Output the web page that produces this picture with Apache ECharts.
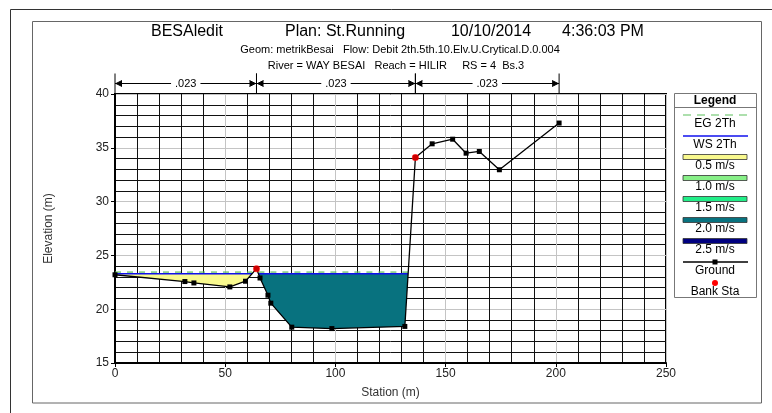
<!DOCTYPE html>
<html>
<head>
<meta charset="utf-8">
<script src="https://cdn.jsdelivr.net/npm/echarts@6/dist/echarts.min.js"></script>
<style>
html,body{margin:0;padding:0;background:#fff;}
#chart{width:772px;height:413px;}
</style>
</head>
<body>
<div id="chart"></div>
<script>
var FONT='Arial, "Liberation Sans", sans-serif';
// ground profile, RS = 4 Bs.3
var groundSta=[0,31.7,35.8,52.1,59.2,64.2,65.8,69.4,70.7,80.2,98.4,131.5,136.3,143.9,153.2,159.3,165.3,174.4,201.5];
var groundElev=[23.2,22.57,22.44,22.07,22.6,23.77,22.9,21.3,20.56,18.33,18.2,18.4,34.1,35.37,35.8,34.5,34.66,32.96,37.3];
var bankSta=[64.2,136.3];
var bankElev=[23.77,34.1];
var wsElev=23.3;   // WS 2Th
var egElev=23.45;  // EG 2Th
var nBreaks=[0,64.2,136.3,201.5];
var nValues=['.023','.023','.023'];
var velLabels=['0.5 m/s','1.0 m/s','1.5 m/s','2.0 m/s','2.5 m/s'];
var velColors=['#f9f98e','#88f088','#22ee88','#08727f','#000080'];
var wetClass=[0,3]; // velocity class for each wet area (left overbank, channel)
var xTicks={min:0,max:250,step:50};
var yTicks={min:15,max:40,step:5};

// wet areas below water surface, cut from the ground line
function wetRuns(sta,elev,ws){
    var runs=[],cur=null;
    for(var i=0;i<sta.length;i++){
        var wet=elev[i]<ws;
        if(i>0){
            var wetPrev=elev[i-1]<ws;
            if(wet!==wetPrev){
                var t=(ws-elev[i-1])/(elev[i]-elev[i-1]);
                var xc=sta[i-1]+t*(sta[i]-sta[i-1]);
                if(wet){cur=[[xc,ws]];}else{cur.push([xc,ws]);runs.push(cur);cur=null;}
            }
        }
        if(wet){
            if(!cur) cur=[[sta[i],ws]];
            cur.push([sta[i],elev[i]]);
        }
    }
    if(cur){cur.push([sta[sta.length-1],ws]);runs.push(cur);}
    return runs;
}
var runs=wetRuns(groundSta,groundElev,wsElev);

var series=[];
series.push({
    type:'custom',name:'flow',z:2,
    data:runs.map(function(r,k){return [k];}),
    renderItem:function(params,api){
        var r=runs[params.dataIndex];
        var pts=r.map(function(p){return api.coord(p);});
        return {type:'polygon',shape:{points:pts},style:{fill:velColors[wetClass[params.dataIndex]],stroke:null}};
    }
});
runs.forEach(function(r){
    var x0=r[0][0],x1=r[r.length-1][0];
    series.push({type:'line',name:'EG 2Th',z:3,symbol:'none',silent:true,
        data:[[x0,egElev],[x1,egElev]],lineStyle:{color:'#5cbf5c',width:1.2,type:[6,6]}});
    series.push({type:'line',name:'WS 2Th',z:4,symbol:'none',silent:true,
        data:[[x0,wsElev],[x1,wsElev]],lineStyle:{color:'#1010ee',width:1.5}});
});
series.push({
    type:'line',name:'Ground',z:5,
    data:groundSta.map(function(s,i){return [s,groundElev[i]];}),
    symbol:'rect',symbolSize:5,showAllSymbol:true,
    lineStyle:{color:'#000',width:1.3},itemStyle:{color:'#000'}
});
series.push({
    type:'scatter',name:'Bank Sta',z:6,
    data:bankSta.map(function(s,i){return [s,bankElev[i]];}),
    symbol:'circle',symbolSize:7,itemStyle:{color:'#ff0000'}
});
// manning's n bands above the plot
series.push({
    type:'custom',name:'n',clip:false,z:6,
    data:nValues.map(function(v,i){return [nBreaks[i],nBreaks[i+1]];}),
    renderItem:function(params,api){
        var i=params.dataIndex;
        var p0=api.coord([nBreaks[i],yTicks.max]);
        var p1=api.coord([nBreaks[i+1],yTicks.max]);
        var y=p0[1]-10.5;
        var st={stroke:'#000',lineWidth:1};
        return {type:'group',children:[
            {type:'line',shape:{x1:p0[0],y1:y-10,x2:p0[0],y2:p0[1]},style:st},
            {type:'line',shape:{x1:p1[0],y1:y-10,x2:p1[0],y2:p1[1]},style:st},
            {type:'line',shape:{x1:p0[0],y1:y,x2:p1[0],y2:y},style:st},
            {type:'polyline',shape:{points:[[p0[0]+7,y-3],[p0[0]+1,y],[p0[0]+7,y+3]]},style:st},
            {type:'polyline',shape:{points:[[p1[0]-7,y-3],[p1[0]-1,y],[p1[0]-7,y+3]]},style:st},
            {type:'text',x:(p0[0]+p1[0])/2,y:y,style:{text:nValues[i],fill:'#000',font:'11px '+FONT,
                align:'center',verticalAlign:'middle',backgroundColor:'#fff',padding:[0,4]}}
        ]};
    }
});

// legend box drawn by hand: symbol above label like the HEC-RAS plot
var legendLabels=['EG 2Th','WS 2Th'].concat(velLabels).concat(['Ground','Bank Sta']);
var LX0=674,LX1=756,LC=(LX0+LX1)/2;
var TITLE_FONT='16px '+FONT;
var graphics=[
    {type:'line',shape:{x1:10.5,y1:9.5,x2:772,y2:9.5},style:{stroke:'#333'}},
    {type:'line',shape:{x1:10.5,y1:9.5,x2:10.5,y2:413},style:{stroke:'#333'}},
    {type:'rect',shape:{x:32.5,y:21.5,width:729,height:381.5},style:{fill:null,stroke:'#666'}},
    {type:'text',x:187,y:32,style:{text:'BESAledit',font:TITLE_FONT,fill:'#000',align:'center',verticalAlign:'middle'}},
    {type:'text',x:345,y:32,style:{text:'Plan: St.Running',font:TITLE_FONT,fill:'#000',align:'center',verticalAlign:'middle'}},
    {type:'text',x:491,y:32,style:{text:'10/10/2014',font:TITLE_FONT,fill:'#000',align:'center',verticalAlign:'middle'}},
    {type:'text',x:603,y:32,style:{text:'4:36:03 PM',font:TITLE_FONT,fill:'#000',align:'center',verticalAlign:'middle'}},
    {type:'text',x:400,y:49.5,style:{text:'Geom: metrikBesai   Flow: Debit 2th.5th.10.Elv.U.Crytical.D.0.004',font:'11px '+FONT,fill:'#000',align:'center',verticalAlign:'middle'}},
    {type:'text',x:396,y:65.5,style:{text:'River = WAY BESAI   Reach = HILIR     RS = 4  Bs.3',font:'11px '+FONT,fill:'#000',align:'center',verticalAlign:'middle'}},
    {type:'rect',shape:{x:LX0+0.5,y:93.5,width:LX1-LX0,height:204},style:{fill:'#fff',stroke:'#777'}},
    {type:'text',x:LC,y:100.5,style:{text:'Legend',font:'bold 12px '+FONT,fill:'#000',align:'center',verticalAlign:'middle'}},
    {type:'line',shape:{x1:LX0,y1:107.5,x2:LX1,y2:107.5},style:{stroke:'#777'}}
];
legendLabels.forEach(function(lab,i){
    var sy=115+21*i;
    if(i==0){
        graphics.push({type:'line',shape:{x1:683,y1:sy,x2:748,y2:sy},style:{stroke:'#5cbf5c',lineWidth:1.2,lineDash:[8,6]}});
    } else if(i==1){
        graphics.push({type:'line',shape:{x1:683,y1:sy,x2:748,y2:sy},style:{stroke:'#1010ee',lineWidth:1.5}});
    } else if(i<7){
        graphics.push({type:'rect',shape:{x:683,y:sy-2.5,width:64,height:5},style:{fill:velColors[i-2],stroke:'#333',lineWidth:0.8}});
    } else if(i==7){
        graphics.push({type:'line',shape:{x1:683,y1:sy,x2:748,y2:sy},style:{stroke:'#000',lineWidth:1.3}});
        graphics.push({type:'rect',shape:{x:LC-2.5,y:sy-2.5,width:5,height:5},style:{fill:'#000'}});
    } else {
        graphics.push({type:'circle',shape:{cx:LC,cy:sy,r:3},style:{fill:'#ff0000'}});
    }
    graphics.push({type:'text',x:LC,y:sy+9,style:{text:lab,font:'12px '+FONT,fill:'#000',align:'center',verticalAlign:'middle'}});
});

var chart=echarts.init(document.getElementById('chart'),null,{renderer:'canvas'});
chart.setOption({
    animation:false,
    backgroundColor:'#fff',
    textStyle:{fontFamily:FONT},
    grid:{left:115,right:106,top:94,bottom:50,show:true,borderColor:'#000',borderWidth:2},
    xAxis:{type:'value',min:xTicks.min,max:xTicks.max,interval:xTicks.step,
        name:'Station (m)',nameLocation:'middle',nameGap:24,nameTextStyle:{fontSize:12,color:'#333'},
        axisLine:{show:true,onZero:false,lineStyle:{color:'#000',width:2}},
        axisTick:{show:true,length:4,lineStyle:{color:'#000'}},
        axisLabel:{fontSize:12,color:'#222',margin:5},
        minorTick:{show:false,splitNumber:5},
        splitLine:{show:true,lineStyle:{color:'#c4c4c4',width:1}},
        minorSplitLine:{show:true,lineStyle:{color:'#111',width:1}}},
    yAxis:{type:'value',min:yTicks.min,max:yTicks.max,interval:yTicks.step,
        name:'Elevation (m)',nameLocation:'middle',nameGap:60,nameTextStyle:{fontSize:12,color:'#333'},
        axisLine:{show:true,onZero:false,lineStyle:{color:'#000',width:2}},
        axisTick:{show:true,length:4,lineStyle:{color:'#000'}},
        axisLabel:{fontSize:12,color:'#222',margin:6},
        minorTick:{show:false,splitNumber:5},
        splitLine:{show:true,lineStyle:{color:'#c4c4c4',width:1}},
        minorSplitLine:{show:true,lineStyle:{color:'#111',width:1}}},
    graphic:graphics,
    series:series
});
</script>
</body>
</html>
